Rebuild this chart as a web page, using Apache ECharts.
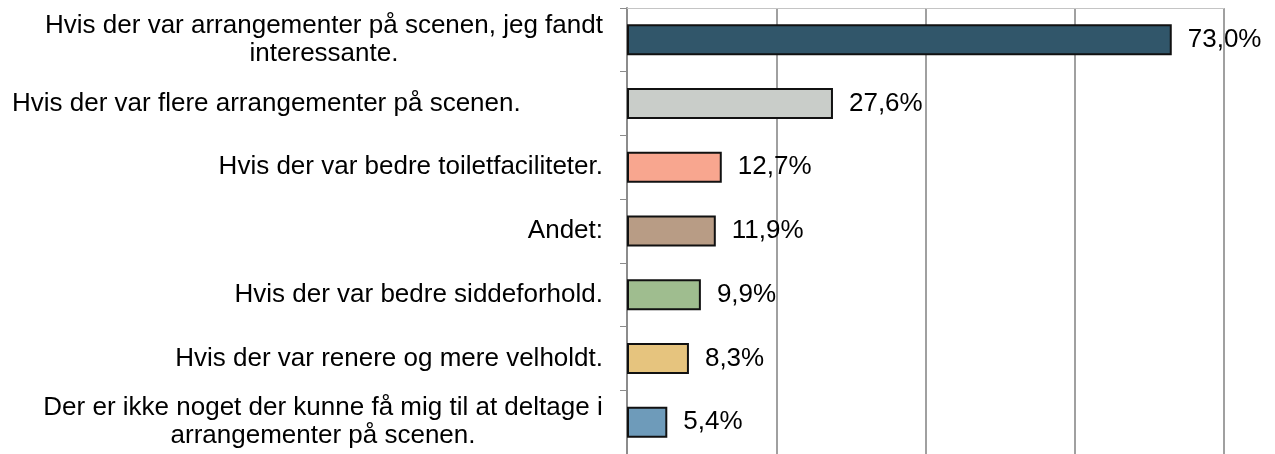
<!DOCTYPE html>
<html>
<head>
<meta charset="utf-8">
<script src="https://cdn.jsdelivr.net/npm/echarts@6/dist/echarts.min.js"></script>
<style>
  html, body { margin: 0; padding: 0; background: #fff; overflow: hidden; }
  #chart { width: 1275px; height: 454px; }
</style>
</head>
<body>
<div id="chart"></div>
<script>
// svar kategorier (top til bund)
var categories = [
    'Hvis der var arrangementer på scenen, jeg fandt\ninteressante.',
    'Hvis der var flere arrangementer på scenen.',
    'Hvis der var bedre toiletfaciliteter.',
    'Andet:',
    'Hvis der var bedre siddeforhold.',
    'Hvis der var renere og mere velholdt.',
    'Der er ikke noget der kunne få mig til at deltage i\narrangementer på scenen.'
];
var values = [73.0, 27.6, 12.7, 11.9, 9.9, 8.3, 5.4];
var colors = ['#31566a', '#c9cdc9', '#f8a68f', '#b89c85', '#9fbd8f', '#e6c47e', '#6e9bba'];

var font = "'Liberation Sans', Arial, sans-serif";
var fs = 26;

// bredeste linje i hver label, så linjerne kan centreres som i Excel
var ctx = document.createElement('canvas').getContext('2d');
ctx.font = fs + 'px ' + font;
function widest(s) {
    return Math.max.apply(null, s.split('\n').map(function (l) { return ctx.measureText(l).width; }));
}

var rich = {};
categories.forEach(function (c, i) {
    if (c.indexOf('\n') >= 0) {
        rich['c' + i] = { width: Math.ceil(widest(c)), align: 'center', fontSize: fs, lineHeight: 28, fontFamily: font, color: '#000' };
    }
});
rich.l = { width: 591, align: 'left', fontSize: fs, lineHeight: 28, fontFamily: font, color: '#000' };

var chart = echarts.init(document.getElementById('chart'));

var option = {
    animation: false,
    grid: { left: 627, right: 51, top: 8, bottom: -2, containLabel: false },
    xAxis: {
        type: 'value',
        position: 'top',
        min: 0,
        max: 80,
        interval: 20,
        axisLabel: { show: false },
        axisTick: { show: false },
        axisLine: { show: true, lineStyle: { color: '#c4c4c4', width: 1 } },
        splitLine: { show: true, lineStyle: { color: '#a0a0a0', width: 2 } }
    },
    yAxis: {
        type: 'category',
        inverse: true,
        data: categories,
        axisLine: { show: true, lineStyle: { color: '#8c8c8c', width: 2 } },
        axisTick: { show: true, length: 7, lineStyle: { color: '#8c8c8c', width: 1 } },
        axisLabel: {
            margin: 24,
            align: 'right',
            color: '#000',
            fontFamily: font,
            fontSize: fs,
            formatter: function (v, i) {
                if (v.indexOf('\n') >= 0) {
                    return v.split('\n').map(function (s) { return '{c' + i + '|' + s + '}'; }).join('\n');
                }
                if (v.indexOf('flere') >= 0) return '{l|' + v + '}';
                return v;
            },
            rich: rich
        }
    },
    series: [{
        type: 'bar',
        data: values.map(function (v, i) {
            return { value: v, itemStyle: { color: colors[i] } };
        }),
        barWidth: 31,
        itemStyle: { borderColor: '#111', borderWidth: 2 },
        label: {
            show: true,
            position: 'right',
            distance: 16,
            color: '#000',
            fontFamily: font,
            fontSize: fs,
            formatter: function (p) { return p.value.toFixed(1).replace('.', ',') + '%'; }
        }
    }]
};

chart.setOption(option);
</script>
</body>
</html>
